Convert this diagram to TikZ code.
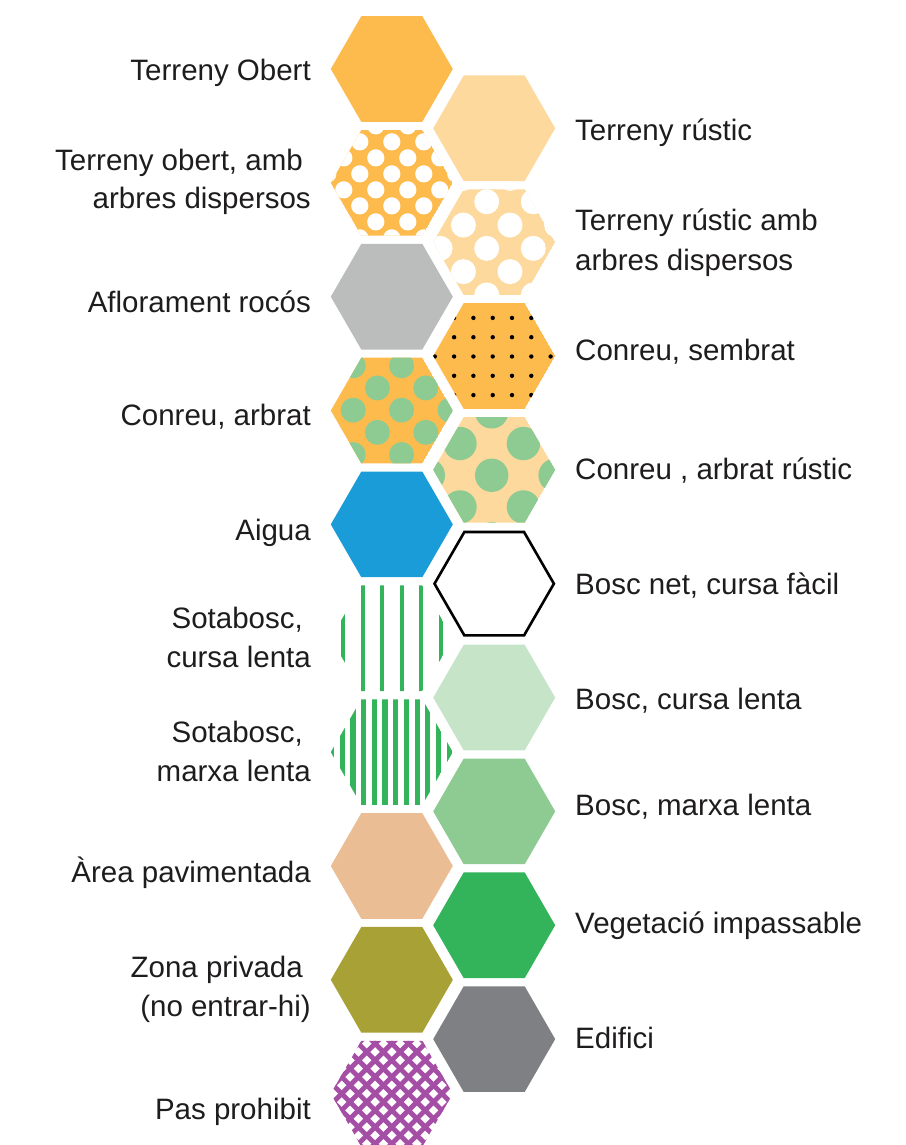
\documentclass[tikz,border=0pt]{standalone}
\usepackage{fontspec}
\setmainfont{Liberation Sans}
\definecolor{orA}{HTML}{FDBB4E}
\definecolor{orB}{HTML}{FDD99D}
\definecolor{rockC}{HTML}{BBBCBC}
\definecolor{greenL}{HTML}{8DCB93}
\definecolor{greenP}{HTML}{C6E5C8}
\definecolor{greenS}{HTML}{33B35A}
\definecolor{waterC}{HTML}{199CD8}
\definecolor{paveC}{HTML}{EABD94}
\definecolor{oliveC}{HTML}{A8A236}
\definecolor{buildC}{HTML}{7F8083}
\definecolor{purpC}{HTML}{A44EA5}
\definecolor{txt}{HTML}{1E1C1D}
\newcommand\hexshape[1]{\path[#1] (61,0) -- (30.5,52.83) -- (-30.5,52.83) -- (-61,0) -- (-30.5,-52.83) -- (30.5,-52.83) -- cycle;}
% lattice of dots: hx, hy, ox, oy, r, colour, N
\newcommand\dotlattice[7]{%
  \foreach \u in {-#7,...,#7}{\foreach \v in {-#7,...,#7}{%
    \fill[#6] ({#3+#1*(\u+\v)},{#4+#2*(\u-\v)}) circle[radius=#5];}}}
\begin{document}
\begin{tikzpicture}[x=1pt,y=-1pt,
  lbl/.style={inner sep=0pt, font=\fontsize{29.5}{34}\selectfont, text=txt}]
\useasboundingbox (0,0) rectangle (905,1145);
% ---------- left column ----------
\begin{scope}[shift={(391.8,69)}]\hexshape{fill=orA}\end{scope}
\begin{scope}[shift={(391.8,182.85)}]
  \hexshape{clip}\hexshape{fill=orA}
  \dotlattice{16}{16}{0}{-9}{8.6}{white}{5}
\end{scope}
\begin{scope}[shift={(391.8,296.7)}]\hexshape{fill=rockC}\end{scope}
\begin{scope}[shift={(391.8,410.55)}]
  \hexshape{clip}\hexshape{fill=orA}
  \dotlattice{24.2}{22.2}{9.8}{-0.4}{12.5}{greenL}{4}
\end{scope}
\begin{scope}[shift={(391.8,524.4)}]\hexshape{fill=waterC}\end{scope}
\begin{scope}[shift={(391.8,638.25)}]
  \hexshape{clip}
  \foreach \k in {-3,...,2}{\fill[greenS] ({9.75+19.5*\k-2},-60) rectangle ++(4,120);}
\end{scope}
\begin{scope}[shift={(391.8,752.1)}]
  \hexshape{clip}
  \foreach \k in {-6,...,6}{\fill[greenS] ({-6.8+10.7*\k-2.6},-60) rectangle ++(5.2,120);}
\end{scope}
\begin{scope}[shift={(391.8,865.95)}]\hexshape{fill=paveC}\end{scope}
\begin{scope}[shift={(391.8,979.8)}]\hexshape{fill=oliveC}\end{scope}
\begin{scope}[shift={(391.8,1093.65)}]
  \hexshape{clip}
  \foreach \k in {-11,...,11}{
    \draw[purpC,line width=4.8] ({16.7*\k-90},-90) -- ++(180,180);
    \draw[purpC,line width=4.8] ({16.7*\k+90},-90) -- ++(-180,180);}
\end{scope}
% ---------- right column ----------
\begin{scope}[shift={(494.2,128.3)}]\hexshape{fill=orB}\end{scope}
\begin{scope}[shift={(494.2,242.15)}]
  \hexshape{clip}\hexshape{fill=orB}
  \dotlattice{23.3}{23.3}{-7.5}{6.2}{12.5}{white}{4}
\end{scope}
\begin{scope}[shift={(494.2,356)}]
  \hexshape{clip}\hexshape{fill=orA}
  \foreach \i in {-4,...,4}{\foreach \j in {-3,...,3}{
    \fill[black] ({-1.5+19.3*\i},{0.5+19.3*\j}) circle[radius=2.2];}}
\end{scope}
\begin{scope}[shift={(494.2,469.85)}]
  \hexshape{clip}\hexshape{fill=orB}
  \dotlattice{31.7}{31.7}{-2.5}{5.4}{16.7}{greenL}{3}
\end{scope}
\begin{scope}[shift={(494.2,583.7)}]
  \draw[black,line width=2.6] (59.7,0) -- (29.85,51.7) -- (-29.85,51.7) -- (-59.7,0) -- (-29.85,-51.7) -- (29.85,-51.7) -- cycle;
\end{scope}
\begin{scope}[shift={(494.2,697.55)}]\hexshape{fill=greenP}\end{scope}
\begin{scope}[shift={(494.2,811.4)}]\hexshape{fill=greenL}\end{scope}
\begin{scope}[shift={(494.2,925.25)}]\hexshape{fill=greenS}\end{scope}
\begin{scope}[shift={(494.2,1039.1)}]\hexshape{fill=buildC}\end{scope}
% ---------- labels left ----------
\node[lbl,anchor=base east] (l0) at (311,80.5) {Terreny Obert};
\node[lbl,anchor=base east] (l1a) at (303,170) {Terreny obert, amb};
\node[lbl,anchor=base east] (l1b) at (311,208.5) {arbres dispersos};
\node[lbl,anchor=base east] (l2) at (311,312) {Aflorament rocós};
\node[lbl,anchor=base east] (l3) at (311,425) {Conreu, arbrat};
\node[lbl,anchor=base east] (l4) at (311,540) {Aigua};
\node[lbl,anchor=base east] (l5a) at (303,628) {Sotabosc,};
\node[lbl,anchor=base east] (l5b) at (311,667) {cursa lenta};
\node[lbl,anchor=base east] (l6a) at (303,742) {Sotabosc,};
\node[lbl,anchor=base east] (l6b) at (311,781) {marxa lenta};
\node[lbl,anchor=base east] (l7) at (311,882) {Àrea pavimentada};
\node[lbl,anchor=base east] (l8a) at (303,977) {Zona privada};
\node[lbl,anchor=base east] (l8b) at (311,1016) {(no entrar-hi)};
\node[lbl,anchor=base east] (l9) at (311,1119) {Pas prohibit};
% ---------- labels right ----------
\node[lbl,anchor=base west] (r0) at (575,140) {Terreny rústic};
\node[lbl,anchor=base west] (r1a) at (575,230.7) {Terreny rústic amb};
\node[lbl,anchor=base west] (r1b) at (575,270) {arbres dispersos};
\node[lbl,anchor=base west] (r2) at (575,360) {Conreu, sembrat};
\node[lbl,anchor=base west] (r3) at (575,479) {Conreu , arbrat rústic};
\node[lbl,anchor=base west] (r4) at (575,594) {Bosc net, cursa fàcil};
\node[lbl,anchor=base west] (r5) at (575,709) {Bosc, cursa lenta};
\node[lbl,anchor=base west] (r6) at (575,815) {Bosc, marxa lenta};
\node[lbl,anchor=base west] (r7) at (575,933) {Vegetació impassable};
\node[lbl,anchor=base west] (r8) at (575,1048) {Edifici};
\end{tikzpicture}
\end{document}
